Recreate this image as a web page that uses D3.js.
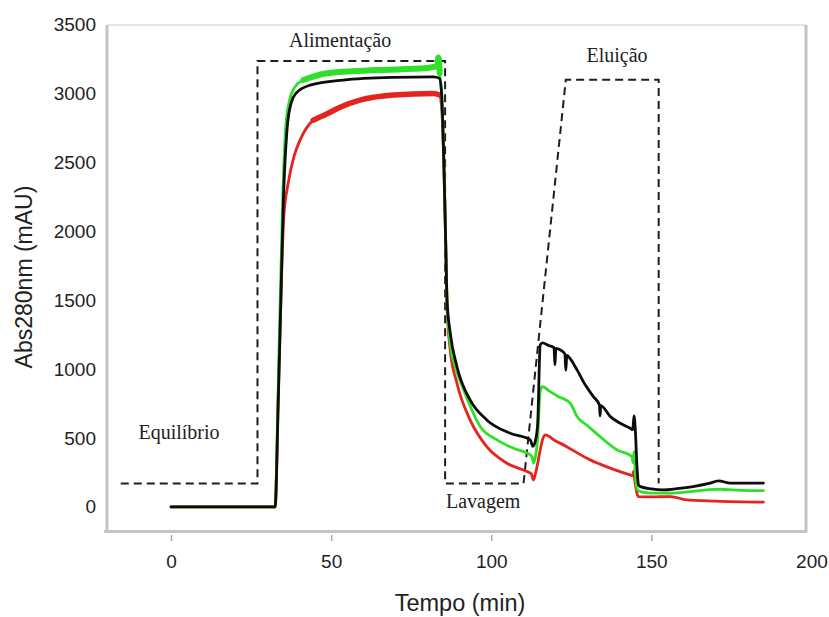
<!DOCTYPE html>
<html>
<head>
<meta charset="utf-8">
<script src="https://cdn.jsdelivr.net/npm/d3@7"></script>
<style>
  body { margin: 0; background: #fff; }
  .tick text { font-family: "Liberation Sans", Arial, sans-serif; font-size: 19px; fill: #222; }
</style>
</head>
<body>
<div id="chart"></div>
<script>
// tick values
var xTicks = [0, 50, 100, 150, 200],
    yTicks = [0, 500, 1000, 1500, 2000, 2500, 3000, 3500];

// absorbance traces [time (min), mAU]
var blackPts = [[0,0],[32.5,0],[33.5,780],[34.3,1500],[35.1,2230],[36.2,2730],[37.5,2930],[39,3000],[43.4,3060],
    [53.8,3097],[69.4,3116],[82,3120],[83.8,3110],[84.5,3000],[85.2,2500],[85.8,1900],[86.2,1500],[87.2,1262],
    [89.3,1017],[93.4,776],[98.6,631],[105.9,534],[112.2,486],[113,440],[113.8,480],[114.5,600],[115.3,1175],
    [116,1190],[118,1170],[119.6,1155],[119.9,1030],[120.2,1150],[121.6,1138],[123,1110],[123.3,990],[123.6,1100],
    [124.5,1080],[126.8,994],[129.5,880],[131.9,800],[133.8,740],[134,660],[134.2,735],[137.2,655],[140,610],
    [143.4,571],[144.2,560],[144.6,660],[145,560],[145.5,300],[146,160],[146.6,147],[150,130],[153.8,123],
    [158,132],[163,147],[168,170],[171,189],[174.7,172],[180,172],[185,172]];

var greenPts = [[0,0],[32.5,0],[33.4,800],[34.1,1500],[34.9,2250],[35.8,2750],[37,2950],[38.5,3040],[41.3,3097],
    [48.7,3147],[64.4,3169],[80,3184],[83.2,3200],[83.5,3260],[83.9,3150],[84.5,3000],[85.2,2500],[85.8,1900],
    [86.2,1500],[87.2,1190],[89,1000],[91.4,848],[96.6,582],[101.8,486],[107,425],[112.2,377],[112.8,360],
    [113.2,317],[113.6,340],[114.5,500],[115.3,840],[116,872],[118.4,836],[121,800],[124.7,752],[126.8,655],
    [130,590],[134,510],[139.3,413],[144,365],[144.3,320],[144.6,400],[145,250],[145.5,130],[146.6,111],
    [150,100],[156,99],[162,110],[168,125],[171.6,128],[178,120],[185,118]];

var redPts = [[0,0],[32.5,0],[33.5,800],[34.3,1500],[35.2,2100],[36.6,2350],[38.5,2550],[40.3,2661],[44.4,2806],
    [48.6,2850],[52.8,2900],[59,2951],[69.4,2988],[82,3000],[83.8,2990],[84.5,2900],[85.2,2500],[85.8,1900],
    [86.2,1450],[87.2,1138],[89.3,897],[93.4,631],[98.6,437],[104.9,317],[111.2,256],[112.5,240],[113.2,196],
    [113.8,240],[116.4,510],[116.9,522],[120,480],[123.6,437],[127,390],[130.9,341],[134,310],[137.2,281],
    [140,258],[143.4,232],[144.2,225],[144.5,260],[144.8,200],[145.5,100],[146,75],[150,72],[156,75],
    [161,51],[170,42],[185,34]];

// dashed step program
var programPts = [[-15.7,170],[27,170],[27,3235],[85.6,3235],[85.6,170],[110.1,170],[123.3,3100],[152.3,3100],[152.3,170]];

var phaseLabels = [
    { text: "Alimentação", t: 52.8, v: 3340 },
    { text: "Eluição", t: 139.3, v: 3230 },
    { text: "Equilíbrio", t: 2.5, v: 490 },
    { text: "Lavagem", t: 97.5, v: -5 }
];

var width = 829, height = 617;

var svg = d3.select("#chart").append("svg")
    .attr("width", width)
    .attr("height", height);

var x = d3.scaleLinear().domain([-20, 198]).range([107, 805]),
    y = d3.scaleLinear().domain([-175, 3500]).range([531, 24.5]);

// frame
svg.append("line").attr("x1", 107).attr("x2", 806).attr("y1", 25).attr("y2", 25)
    .attr("stroke", "#dedede").attr("stroke-width", 1.5);
svg.append("line").attr("x1", 806).attr("x2", 806).attr("y1", 25).attr("y2", 532)
    .attr("stroke", "#c4c4c4").attr("stroke-width", 3);
svg.append("line").attr("x1", 107).attr("x2", 107).attr("y1", 25).attr("y2", 532)
    .attr("stroke", "#c4c4c4").attr("stroke-width", 3);
svg.append("line").attr("x1", 104).attr("x2", 807).attr("y1", 531.5).attr("y2", 531.5)
    .attr("stroke", "#c4c4c4").attr("stroke-width", 3);

// axes
var yAxis = svg.append("g")
    .attr("transform", "translate(107,0)")
    .call(d3.axisLeft(y).tickValues(yTicks).tickSize(0).tickPadding(11).tickFormat(d3.format("d")));
yAxis.select(".domain").remove();

var xAxis = svg.append("g")
    .attr("transform", "translate(0,535)")
    .call(d3.axisBottom(x).tickValues(xTicks).tickSize(6).tickPadding(14).tickFormat(d3.format("d")));
xAxis.select(".domain").remove();
xAxis.selectAll(".tick line")
    .attr("stroke", "#aaa")
    .attr("stroke-width", 1.5)
    .attr("opacity", function (d) { return d > 190 ? 0 : 1; });

var line = d3.line()
    .x(function (d) { return x(d[0]); })
    .y(function (d) { return y(d[1]); });

var smooth = d3.line()
    .curve(d3.curveMonotoneX)
    .x(function (d) { return x(d[0]); })
    .y(function (d) { return y(d[1]); });

// program (dashed)
svg.append("path")
    .datum(programPts)
    .attr("d", line)
    .attr("fill", "none")
    .attr("stroke", "#1e1e1e")
    .attr("stroke-width", 2)
    .attr("stroke-dasharray", "8,5");

// traces: noisy plateau drawn as a wider band
var traces = [
    { pts: redPts, color: "#e5231f", band: 5.5, from: 44 },
    { pts: greenPts, color: "#2fe02a", band: 6, from: 41 },
    { pts: blackPts, color: "#0d0d0d", band: 0 }
];

traces.forEach(function (s) {
    if (s.band) {
        svg.append("path")
            .datum(s.pts.filter(function (d) { return d[0] >= s.from && d[0] <= 84; }))
            .attr("d", smooth)
            .attr("fill", "none")
            .attr("stroke", s.color)
            .attr("stroke-width", s.band)
            .attr("stroke-linejoin", "round")
            .attr("stroke-linecap", "round");
    }
    svg.append("path")
        .datum(s.pts)
        .attr("d", smooth)
        .attr("fill", "none")
        .attr("stroke", s.color)
        .attr("stroke-width", 2.8)
        .attr("stroke-linejoin", "round")
        .attr("stroke-linecap", "round");
});

// phase labels
svg.selectAll(".phase")
    .data(phaseLabels)
    .enter().append("text")
    .attr("class", "phase")
    .attr("x", function (d) { return x(d.t); })
    .attr("y", function (d) { return y(d.v); })
    .attr("text-anchor", "middle")
    .style("font-family", "'Liberation Serif', 'Times New Roman', serif")
    .style("font-size", "20px")
    .style("fill", "#222")
    .text(function (d) { return d.text; });

// axis titles
svg.append("text")
    .attr("x", 460)
    .attr("y", 611)
    .attr("text-anchor", "middle")
    .style("font-family", "'Liberation Sans', Arial, sans-serif")
    .style("font-size", "23.5px")
    .style("fill", "#222")
    .text("Tempo (min)");

svg.append("text")
    .attr("transform", "translate(32,277) rotate(-90)")
    .attr("text-anchor", "middle")
    .style("font-family", "'Liberation Sans', Arial, sans-serif")
    .style("font-size", "23px")
    .style("fill", "#222")
    .text("Abs280nm (mAU)");
</script>
</body>
</html>
